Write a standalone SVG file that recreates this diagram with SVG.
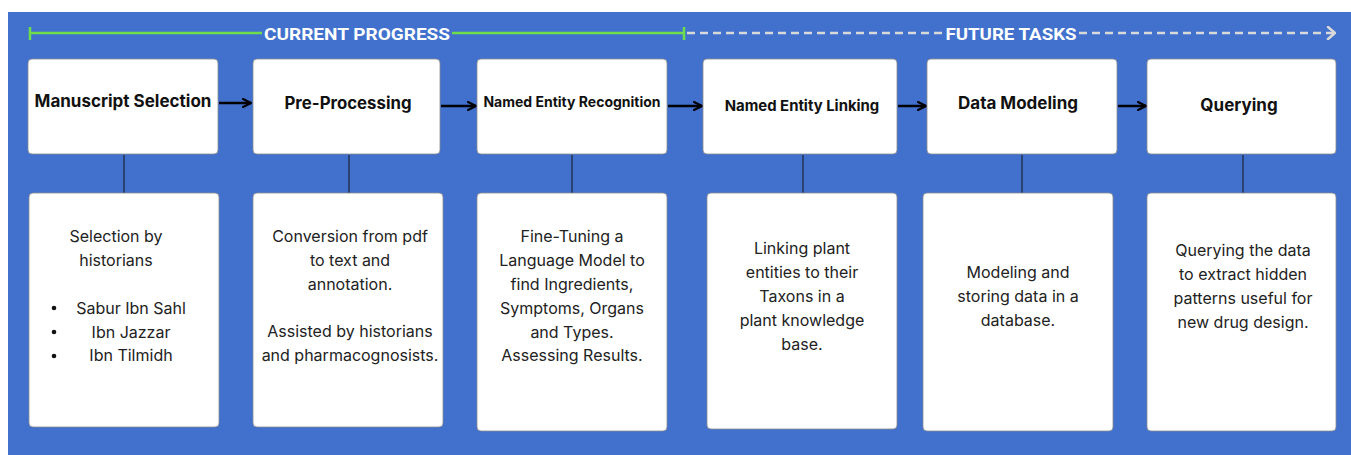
<svg xmlns="http://www.w3.org/2000/svg" width="1351" height="455" viewBox="0 0 1351 455">
<defs>
<marker id="ah" viewBox="0 0 10 10" refX="9" refY="5" markerWidth="10" markerHeight="10" markerUnits="userSpaceOnUse" orient="auto">
<path d="M1,1 L9,5 L1,9" fill="none" stroke="#000" stroke-width="2.2" stroke-linecap="round" stroke-linejoin="round"/>
</marker>
<marker id="ah2" viewBox="0 0 10 14" refX="9" refY="7" markerWidth="10" markerHeight="14" markerUnits="userSpaceOnUse" orient="auto">
<path d="M2,1 L9,7 L2,13" fill="none" stroke="#d9d9d9" stroke-width="2.5" stroke-linecap="round" stroke-linejoin="round"/>
</marker>
<style>
.box{fill:#fff;stroke:#8a8a8a;stroke-width:0.8}
.title{font-family:Inter,"Liberation Sans",sans-serif;font-weight:700;fill:#111;text-anchor:middle}
.body{font-family:Inter,"Liberation Sans",sans-serif;font-size:16px;fill:#222;text-anchor:middle}
.hdr{font-family:Roboto,"Liberation Sans",sans-serif;font-weight:700;font-size:17px;fill:#fff;text-anchor:middle}
.arr{stroke:#000;stroke-width:2.5;fill:none}
.vl{stroke:#1e2a40;stroke-width:1.3}
</style>
</defs>
<rect x="0" y="0" width="1351" height="455" fill="#fff"/>
<rect x="8" y="12" width="1343" height="443" fill="#4171cd"/>

<g id="timeline">
<line x1="30" y1="33" x2="262" y2="33" stroke="#6fdc4b" stroke-width="2.5"/>
<line x1="452" y1="33" x2="684" y2="33" stroke="#6fdc4b" stroke-width="2.5"/>
<line x1="30" y1="27" x2="30" y2="40" stroke="#6fdc4b" stroke-width="2.5"/>
<line x1="684" y1="27" x2="684" y2="40" stroke="#6fdc4b" stroke-width="2.5"/>
<text class="hdr" x="357" y="40" textLength="186" lengthAdjust="spacingAndGlyphs">CURRENT PROGRESS</text>
<line x1="687" y1="33" x2="944" y2="33" stroke="#d9d9d9" stroke-width="2.5" stroke-dasharray="8,5"/>
<line x1="1079" y1="33" x2="1335" y2="33" stroke="#d9d9d9" stroke-width="2.5" stroke-dasharray="8,5" marker-end="url(#ah2)"/>
<text class="hdr" x="1011" y="40" textLength="131" lengthAdjust="spacingAndGlyphs">FUTURE TASKS</text>
</g>

<g id="connectors">
<line class="arr" x1="219" y1="103" x2="251" y2="103" marker-end="url(#ah)"/>
<line class="arr" x1="441" y1="106" x2="476" y2="106" marker-end="url(#ah)"/>
<line class="arr" x1="668" y1="106" x2="702" y2="106" marker-end="url(#ah)"/>
<line class="arr" x1="898" y1="106" x2="926" y2="106" marker-end="url(#ah)"/>
<line class="arr" x1="1118" y1="106" x2="1146" y2="106" marker-end="url(#ah)"/>
<line class="vl" x1="124" y1="155" x2="124" y2="193"/>
<line class="vl" x1="349" y1="155" x2="349" y2="193"/>
<line class="vl" x1="572" y1="155" x2="572" y2="193"/>
<line class="vl" x1="803" y1="155" x2="803" y2="193"/>
<line class="vl" x1="1022" y1="155" x2="1022" y2="193"/>
<line class="vl" x1="1243" y1="155" x2="1243" y2="193"/>
</g>

<g id="n1">
<rect class="box" x="28" y="59" width="190" height="95" rx="4"/>
<text class="title" x="123" y="107" font-size="17">Manuscript Selection</text>
</g>
<g id="n2">
<rect class="box" x="253" y="59" width="187" height="95" rx="4"/>
<text class="title" x="348" y="109" font-size="16.8">Pre-Processing</text>
</g>
<g id="n3">
<rect class="box" x="477" y="59" width="190" height="95" rx="4"/>
<text class="title" x="572" y="107" font-size="14">Named Entity Recognition</text>
</g>
<g id="n4">
<rect class="box" x="703" y="59" width="194" height="95" rx="4"/>
<text class="title" x="802" y="111" font-size="14.9">Named Entity Linking</text>
</g>
<g id="n5">
<rect class="box" x="927" y="59" width="190" height="95" rx="4"/>
<text class="title" x="1018" y="109" font-size="17">Data Modeling</text>
</g>
<g id="n6">
<rect class="box" x="1147" y="59" width="189" height="95" rx="4"/>
<text class="title" x="1239" y="111" font-size="17">Querying</text>
</g>

<g id="d1">
<rect class="box" x="29" y="193" width="190" height="234" rx="4"/>
<text class="body" x="116" y="242">Selection by</text>
<text class="body" x="116" y="266">historians</text>
<circle cx="54" cy="308" r="2.3" fill="#111"/>
<circle cx="54" cy="332" r="2.3" fill="#111"/>
<circle cx="54" cy="356" r="2.3" fill="#111"/>
<text class="body" x="131" y="314">Sabur Ibn Sahl</text>
<text class="body" x="131" y="338">Ibn Jazzar</text>
<text class="body" x="131" y="361">Ibn Tilmidh</text>
</g>
<g id="d2">
<rect class="box" x="253" y="193" width="190" height="234" rx="4"/>
<text class="body" x="350" y="242">Conversion from pdf</text>
<text class="body" x="350" y="266">to text and</text>
<text class="body" x="350" y="290">annotation.</text>
<text class="body" x="350" y="337">Assisted by historians</text>
<text class="body" x="350" y="361">and pharmacognosists.</text>
</g>
<g id="d3">
<rect class="box" x="477" y="193" width="190" height="238" rx="4"/>
<text class="body" x="572" y="242">Fine-Tuning a</text>
<text class="body" x="572" y="266">Language Model to</text>
<text class="body" x="572" y="290">find Ingredients,</text>
<text class="body" x="572" y="314">Symptoms, Organs</text>
<text class="body" x="572" y="338">and Types.</text>
<text class="body" x="572" y="361">Assessing Results.</text>
</g>
<g id="d4">
<rect class="box" x="707" y="193" width="190" height="236" rx="4"/>
<text class="body" x="802" y="254">Linking plant</text>
<text class="body" x="802" y="278">entities to their</text>
<text class="body" x="802" y="302">Taxons in a</text>
<text class="body" x="802" y="326">plant knowledge</text>
<text class="body" x="802" y="350">base.</text>
</g>
<g id="d5">
<rect class="box" x="923" y="193" width="190" height="238" rx="4"/>
<text class="body" x="1018" y="278">Modeling and</text>
<text class="body" x="1018" y="302">storing data in a</text>
<text class="body" x="1018" y="326">database.</text>
</g>
<g id="d6">
<rect class="box" x="1147" y="193" width="189" height="238" rx="4"/>
<text class="body" x="1243" y="256">Querying the data</text>
<text class="body" x="1243" y="280">to extract hidden</text>
<text class="body" x="1243" y="304">patterns useful for</text>
<text class="body" x="1243" y="328">new drug design.</text>
</g>
</svg>
